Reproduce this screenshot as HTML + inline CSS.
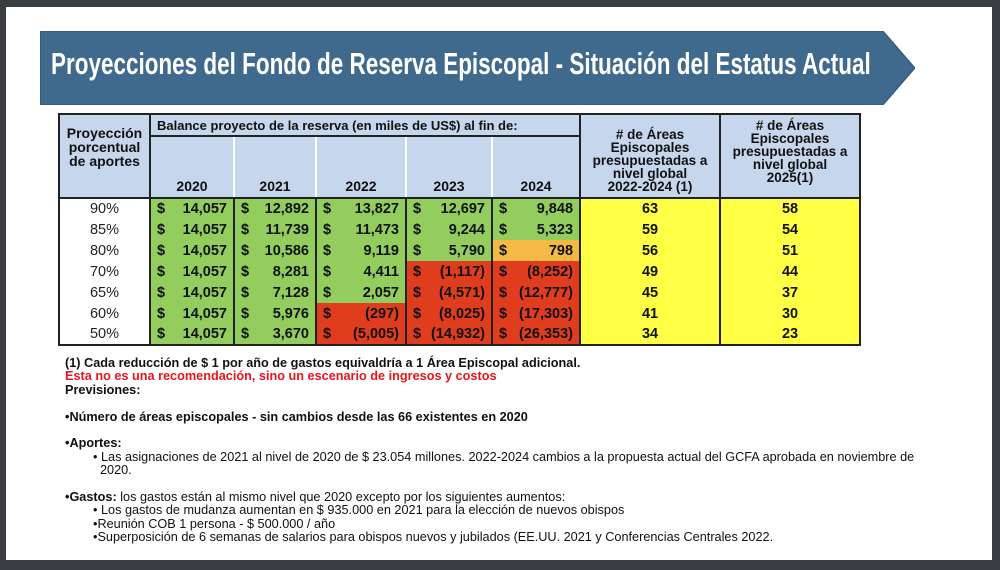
<!DOCTYPE html>
<html><head><meta charset="utf-8"><style>
*{margin:0;padding:0;box-sizing:border-box}
body{width:1000px;height:570px;background:#3a3d42;position:relative;overflow:hidden;font-family:"Liberation Sans",Arial,sans-serif}
#page{position:absolute;left:6px;top:7px;width:986px;height:553px;background:#fff}
#banner{position:absolute;left:40px;top:31px;width:875px;height:74px}
#title{position:absolute;left:51px;top:46px;color:#fff;font-weight:bold;font-size:31px;white-space:nowrap;transform:scaleX(0.725);transform-origin:left top}
table{position:absolute;left:58px;top:113px;border-collapse:collapse;table-layout:fixed;width:801px}
td{border:2px solid #222;font-weight:bold;font-size:14.5px;color:#111;padding:0;overflow:hidden}
.h{background:#c6d6ec;font-size:13.5px;text-align:center;line-height:13px}
.yr{background:#c6d6ec;vertical-align:bottom;text-align:center;font-size:14px;padding-bottom:3px;border-left:2px solid #fff;border-right:2px solid #fff}
.p{text-align:center;font-weight:normal;font-size:14.5px;color:#222;background:#fff;border-top:none;border-bottom:none}
.d{padding:0 6px}
.d span{float:right}
.g{background:#93cd5d}.r{background:#e03c1e}.o{background:#f2b944}
.y{background:#ffff45;text-align:center;border-top:none;border-bottom:none}
tr.dr td{height:21px;line-height:18px}
.g,.r,.o{border-top:none;border-bottom:none}
#notes{position:absolute;left:65px;top:357px;font-size:12.7px;line-height:13.4px;color:#111}
#notes div{white-space:nowrap}
.b{font-weight:bold}
.red{color:#e8141e;font-weight:bold}
.i{padding-left:28px}
</style></head><body>
<div id="page"></div>
<svg id="banner" width="875" height="74" viewBox="0 0 875 74"><polygon points="0,0 843,0 875,37 843,74 0,74" fill="#3f6a8d" stroke="#2e5272" stroke-width="1"/></svg>
<div id="title">Proyecciones del Fondo de Reserva Episcopal - Situación del Estatus Actual</div>
<table>
<colgroup><col style="width:91px"><col style="width:84px"><col style="width:82px"><col style="width:90px"><col style="width:86px"><col style="width:88px"><col style="width:140px"><col style="width:140px"></colgroup>
<tr style="height:22px"><td class="h" rowspan="2" style="vertical-align:middle;padding-bottom:18px;font-size:14px;line-height:14px">Proyección<br>porcentual<br>de aportes</td><td class="h" colspan="5" style="text-align:left;padding-left:6px;font-size:13px">Balance proyecto de la reserva (en miles de US$) al fin de:</td><td class="h" rowspan="2" style="padding-top:8px">#&nbsp;de Áreas<br>Episcopales<br>presupuestadas a<br>nivel global<br>2022-2024 (1)</td><td class="h" rowspan="2" style="padding-bottom:10px">#&nbsp;de Áreas<br>Episcopales<br>presupuestadas a<br>nivel global<br>2025(1)</td></tr>
<tr style="height:62px"><td class="yr">2020</td><td class="yr">2021</td><td class="yr">2022</td><td class="yr">2023</td><td class="yr">2024</td></tr>
<tr class="dr"><td class="p">90%</td><td class="d g">$<span>14,057</span></td><td class="d g">$<span>12,892</span></td><td class="d g">$<span>13,827</span></td><td class="d g">$<span>12,697</span></td><td class="d g">$<span>9,848</span></td><td class="y">63</td><td class="y">58</td></tr>
<tr class="dr"><td class="p">85%</td><td class="d g">$<span>14,057</span></td><td class="d g">$<span>11,739</span></td><td class="d g">$<span>11,473</span></td><td class="d g">$<span>9,244</span></td><td class="d g">$<span>5,323</span></td><td class="y">59</td><td class="y">54</td></tr>
<tr class="dr"><td class="p">80%</td><td class="d g">$<span>14,057</span></td><td class="d g">$<span>10,586</span></td><td class="d g">$<span>9,119</span></td><td class="d g">$<span>5,790</span></td><td class="d o">$<span>798</span></td><td class="y">56</td><td class="y">51</td></tr>
<tr class="dr"><td class="p">70%</td><td class="d g">$<span>14,057</span></td><td class="d g">$<span>8,281</span></td><td class="d g">$<span>4,411</span></td><td class="d r">$<span>(1,117)</span></td><td class="d r">$<span>(8,252)</span></td><td class="y">49</td><td class="y">44</td></tr>
<tr class="dr"><td class="p">65%</td><td class="d g">$<span>14,057</span></td><td class="d g">$<span>7,128</span></td><td class="d g">$<span>2,057</span></td><td class="d r">$<span>(4,571)</span></td><td class="d r">$<span>(12,777)</span></td><td class="y">45</td><td class="y">37</td></tr>
<tr class="dr"><td class="p">60%</td><td class="d g">$<span>14,057</span></td><td class="d g">$<span>5,976</span></td><td class="d r">$<span>(297)</span></td><td class="d r">$<span>(8,025)</span></td><td class="d r">$<span>(17,303)</span></td><td class="y">41</td><td class="y">30</td></tr>
<tr class="dr"><td class="p" style="border-bottom:2px solid #222">50%</td><td class="d g" style="border-bottom:2px solid #222">$<span>14,057</span></td><td class="d g" style="border-bottom:2px solid #222">$<span>3,670</span></td><td class="d r" style="border-bottom:2px solid #222">$<span>(5,005)</span></td><td class="d r" style="border-bottom:2px solid #222">$<span>(14,932)</span></td><td class="d r" style="border-bottom:2px solid #222">$<span>(26,353)</span></td><td class="y" style="border-bottom:2px solid #222">34</td><td class="y" style="border-bottom:2px solid #222">23</td></tr>
</table>
<div id="notes">
<div class="b">(1) Cada reducción de $ 1 por año de gastos equivaldría a 1 Área Episcopal adicional.</div>
<div class="red">Esta no es una recomendación, sino un escenario de ingresos y costos</div>
<div class="b">Previsiones:</div>
<div>&nbsp;</div>
<div class="b">•Número de áreas episcopales - sin cambios desde las 66 existentes en 2020</div>
<div>&nbsp;</div>
<div><span class="b">•Aportes:</span></div>
<div class="i">• Las asignaciones de 2021 al nivel de 2020 de $ 23.054 millones. 2022-2024 cambios a la propuesta actual del GCFA aprobada en noviembre de</div>
<div class="i" style="padding-left:35px">2020.</div>
<div>&nbsp;</div>
<div><span class="b">•Gastos:</span> los gastos están al mismo nivel que 2020 excepto por los siguientes aumentos:</div>
<div class="i">• Los gastos de mudanza aumentan en $ 935.000 en 2021 para la elección de nuevos obispos</div>
<div class="i">•Reunión COB 1 persona - $ 500.000 / año</div>
<div class="i">•Superposición de 6 semanas de salarios para obispos nuevos y jubilados (EE.UU. 2021 y Conferencias Centrales 2022.</div>
</div>
</body></html>
